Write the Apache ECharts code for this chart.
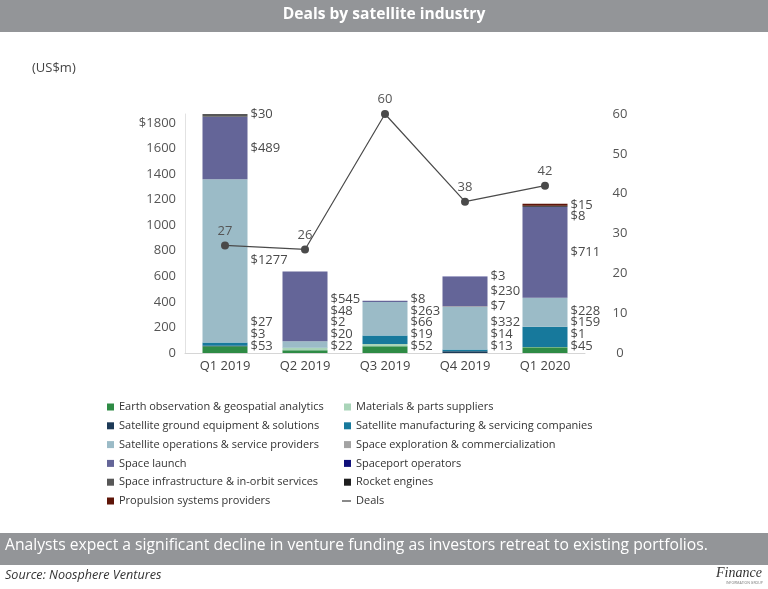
<!DOCTYPE html>
<html>
<head>
<meta charset="utf-8">
<script src="https://cdn.jsdelivr.net/npm/echarts@6/dist/echarts.min.js"></script>
<style>
html,body{margin:0;padding:0;background:#fff;}
#c{width:768px;height:589px;}
</style>
</head>
<body>
<div id="c"></div>
<script>
const categories = ['Q1 2019','Q2 2019','Q3 2019','Q4 2019','Q1 2020'];
const seriesNames = [
  'Earth observation & geospatial analytics',
  'Materials & parts suppliers',
  'Satellite ground equipment & solutions',
  'Satellite manufacturing & servicing companies',
  'Satellite operations & service providers',
  'Space exploration & commercialization',
  'Space launch',
  'Spaceport operators',
  'Space infrastructure & in-orbit services',
  'Rocket engines',
  'Propulsion systems providers'
];
const earthObs      = [53, 22, 52, 0, 45];
const materials     = [0, 20, 19, 0, 1];
const satGround     = [3, 0, 0, 13, 0];
const satManuf      = [27, 2, 66, 14, 159];
const satOps        = [1277, 48, 263, 332, 228];
const spaceExpl     = [0, 0, 0, 7, 0];
const spaceLaunch   = [489, 545, 8, 230, 711];
const spaceport     = [0, 0, 0, 3, 0];
const spaceInfra    = [30, 0, 0, 0, 0];
const rocketEngines = [0, 0, 0, 0, 8];
const propulsion    = [0, 0, 0, 0, 15];
const deals         = [27, 26, 60, 38, 42];
const leftTickLabels  = ['0','200','400','600','800','1000','1200','1400','1600','$1800'];
const rightTickLabels = ['0','10','20','30','40','50','60'];

const barValues = [earthObs, materials, satGround, satManuf, satOps, spaceExpl, spaceLaunch, spaceport, spaceInfra, rocketEngines, propulsion];
const palette = ['#2e8b45','#a9d4b8','#1d3a57','#17799c','#9bbbc7','#a3a3a3','#646598','#10107a','#575757','#1e1e1e','#5e1508'];

const FONT = '"Open Sans", "Noto Sans", sans-serif';
const chart = echarts.init(document.getElementById('c'));

const series = barValues.map((vals, k) => ({
  name: seriesNames[k],
  type: 'bar',
  stack: 'total',
  barWidth: 45,
  data: vals,
  itemStyle: { color: palette[k] },
  emphasis: { disabled: true }
}));

series.push({
  name: 'Deals',
  type: 'line',
  yAxisIndex: 1,
  data: deals,
  symbol: 'circle',
  symbolSize: 8,
  lineStyle: { color: '#4a4a4a', width: 1.2 },
  itemStyle: { color: '#4a4a4a' },
  label: { show: true, position: 'top', distance: 4, color: '#555', fontSize: 13, fontFamily: FONT },
  z: 5
});

// Value labels to the right of each stacked bar, positioned via the axis scale
series.push({
  type: 'custom',
  name: 'labels',
  silent: true,
  z: 6,
  data: categories.map((c, i) => [i, 0]),
  encode: { x: 0, y: 1 },
  renderItem: function (params, api) {
    const i = params.dataIndex;
    const items = [];
    let cum = 0;
    for (let k = 0; k < barValues.length; k++) {
      const v = barValues[k][i];
      if (v > 0) {
        items.push({ text: '$' + v, y: api.coord([i, cum + v / 2])[1] });
        cum += v;
      }
    }
    const gap = 11.7;
    for (let j = items.length - 2; j >= 0; j--) {
      items[j].y = Math.max(items[j].y, items[j + 1].y + gap);
    }
    const base = api.coord([i, 0])[1] - 7;
    for (let j = 0; j < items.length; j++) {
      const lim = j === 0 ? base : items[j - 1].y - gap;
      items[j].y = Math.min(items[j].y, lim);
    }
    const x = api.coord([i, 0])[0] + 22.5 + 3;
    return {
      type: 'group',
      children: items.map(t => ({
        type: 'text',
        style: { text: t.text, x: x, y: t.y, verticalAlign: 'middle', align: 'left', fill: '#4a4a4a', font: '13px ' + FONT }
      }))
    };
  }
});

const legendText = { color: '#333', fontSize: 11, fontFamily: FONT, lineHeight: 16 };

chart.setOption({
  animation: false,
  textStyle: { fontFamily: FONT },
  grid: { left: 185, right: 183, top: 114, bottom: 236 },
  xAxis: {
    type: 'category',
    data: categories,
    axisLine: { lineStyle: { color: '#d6d6d6' } },
    axisTick: { show: false },
    axisLabel: { color: '#444', fontSize: 13, margin: 7, fontFamily: FONT }
  },
  yAxis: [
    {
      type: 'value', min: 0, max: 1870, interval: 200,
      axisLine: { show: true, lineStyle: { color: '#e2e2e2' } },
      axisTick: { show: false },
      splitLine: { show: false },
      axisLabel: {
        color: '#555', fontSize: 13, margin: 9, fontFamily: FONT,
        formatter: v => (v % 200 === 0 ? leftTickLabels[v / 200] : '')
      }
    },
    {
      type: 'value', min: 0, max: 60, interval: 10,
      axisLine: { show: false },
      axisTick: { show: false },
      splitLine: { show: false },
      axisLabel: {
        color: '#555', fontSize: 13, margin: 35, align: 'center', fontFamily: FONT,
        formatter: v => rightTickLabels[v / 10]
      }
    }
  ],
  legend: [
    {
      orient: 'vertical', left: 102, top: 394, itemWidth: 7, itemHeight: 7, itemGap: 2.8, icon: 'rect',
      textStyle: legendText, selectedMode: false,
      data: [seriesNames[0], seriesNames[2], seriesNames[4], seriesNames[6], seriesNames[8], seriesNames[10]]
    },
    {
      orient: 'vertical', left: 339, top: 394, itemWidth: 7, itemHeight: 7, itemGap: 2.8, icon: 'rect',
      textStyle: legendText, selectedMode: false,
      data: [seriesNames[1], seriesNames[3], seriesNames[5], seriesNames[7], seriesNames[9]]
    },
    {
      orient: 'vertical', left: 337, top: 488, itemWidth: 9, itemHeight: 1.3, icon: 'rect',
      textStyle: legendText, selectedMode: false,
      data: ['Deals']
    }
  ],
  graphic: [
    { type: 'rect', left: 0, top: 0, shape: { width: 768, height: 32 }, style: { fill: '#939598' }, silent: true },
    { type: 'text', left: 'center', top: 7, style: { text: 'Deals by satellite industry', fill: '#fff', font: 'bold 15.6px ' + FONT }, silent: true },
    { type: 'text', left: 32, top: 62, style: { text: '(US$m)', fill: '#444', font: '13px ' + FONT }, silent: true },
    { type: 'rect', left: 0, top: 533, shape: { width: 768, height: 32 }, style: { fill: '#939598' }, silent: true },
    { type: 'text', left: 5, top: 538, style: { text: 'Analysts expect a significant decline in venture funding as investors retreat to existing portfolios.', fill: '#fff', font: '15.7px ' + FONT }, silent: true },
    { type: 'text', left: 5, top: 569, style: { text: 'Source: Noosphere Ventures', fill: '#333', font: 'italic 12.6px ' + FONT }, silent: true },
    { type: 'text', left: 716, top: 566, style: { text: 'Finance', fill: '#333', font: 'italic 14px "Liberation Serif", serif' }, silent: true },
    { type: 'text', left: 726, top: 581, style: { text: 'INFORMATION GROUP', fill: '#777', font: '3.5px ' + FONT }, silent: true }
  ],
  series: series
});
</script>
</body>
</html>
